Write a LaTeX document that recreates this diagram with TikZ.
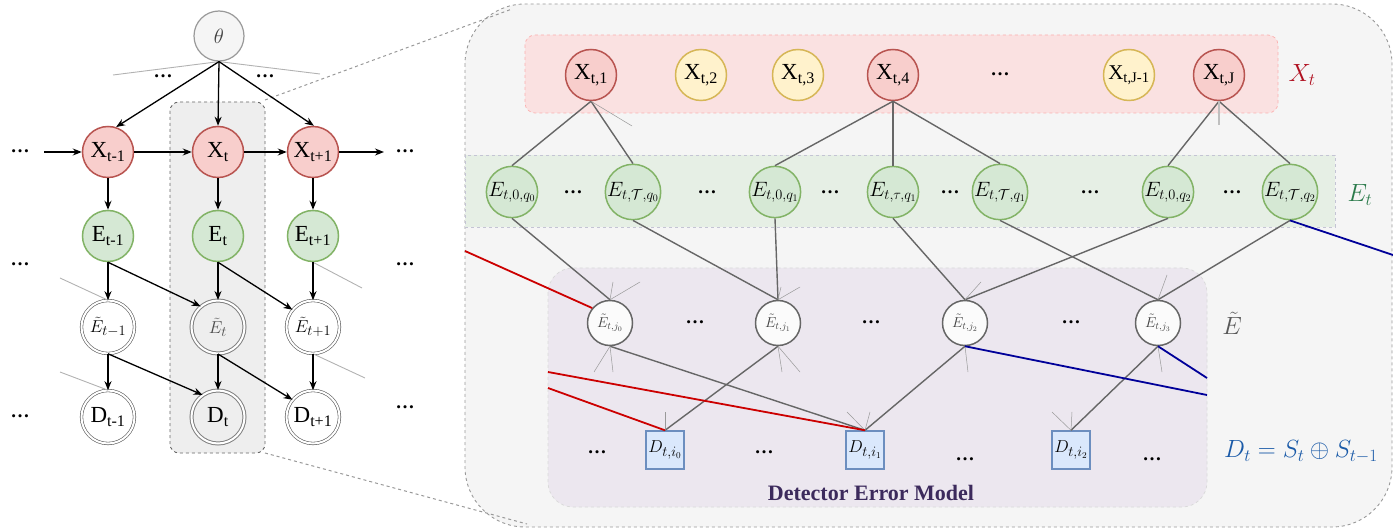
\documentclass[tikz,border=0pt]{standalone}
\usepackage[no-math]{fontspec}
\setmainfont{Liberation Serif}
\usetikzlibrary{arrows.meta}
\definecolor{redfill}{HTML}{F8CECC}
\definecolor{redline}{HTML}{B85450}
\definecolor{yelfill}{HTML}{FFF2CC}
\definecolor{yelline}{HTML}{D6B656}
\definecolor{grnfill}{HTML}{D5E8D4}
\definecolor{grnline}{HTML}{82B366}
\definecolor{blufill}{HTML}{DAE8FC}
\definecolor{bluline}{HTML}{6C8EBF}
\definecolor{conngray}{HTML}{666666}
\definecolor{stubgray}{HTML}{999999}
\definecolor{boxfill}{HTML}{F5F5F5}
\definecolor{hlfill}{HTML}{EEEEEE}
\definecolor{demfill}{HTML}{ECE7EF}
\definecolor{bandred}{HTML}{FAE1E1}
\definecolor{bandgrn}{HTML}{E6EFE5}
\definecolor{errred}{HTML}{CC0000}
\definecolor{errblue}{HTML}{000099}
\definecolor{demtext}{HTML}{3C2A5C}
\definecolor{labred}{HTML}{B01020}
\definecolor{labgrn}{HTML}{2A7A4A}
\definecolor{labblue}{HTML}{1A5AA8}
\begin{document}
\begin{tikzpicture}[x=1pt,y=-1pt,
  xnode/.style={circle,draw=redline,fill=redfill,line width=1.5pt,minimum size=51pt,inner sep=0pt,font=\fontsize{23}{26}\selectfont},
  ynode/.style={xnode,draw=yelline,fill=yelfill},
  enode/.style={xnode,draw=grnline,fill=grnfill},
  emnode/.style={enode,font=\fontsize{19.5}{22}\selectfont},
  tnode/.style={circle,draw=conngray,fill=white!97!gray,line width=1.5pt,minimum size=45pt,inner sep=0pt,font=\fontsize{14}{16}\selectfont,text=black!75},
  dnode/.style={rectangle,draw=bluline,fill=blufill,line width=1.4pt,minimum size=38pt,inner sep=0pt,font=\fontsize{19}{22}\selectfont},
  dblnode/.style={circle,draw=black!65,double=white,double distance=2pt,line width=0.6pt,minimum size=53pt,inner sep=0pt,font=\fontsize{23}{26}\selectfont},
  arr/.style={-{Stealth[length=9pt,width=7pt]},line width=1.3pt,black},
  conn/.style={line width=1.4pt,draw=conngray},
  stub/.style={line width=0.5pt,draw=stubgray},
  thin gray/.style={line width=0.9pt,draw=black!30},
  redl/.style={line width=1.8pt,draw=errred},
  bluel/.style={line width=1.8pt,draw=errblue},
  dotsnode/.style={font=\bfseries\fontsize{19}{22}\selectfont,inner sep=0pt},
  biglab/.style={font=\fontsize{24}{28}\selectfont,inner sep=0pt}]
\useasboundingbox (0,0) rectangle (1393,529);

% ===== backgrounds =====
\draw[dashed,draw=conngray,line width=0.9pt,fill=hlfill,rounded corners=9pt] (170,102) rectangle (265,453);
\draw[dashed,draw=stubgray,line width=0.9pt,fill=boxfill,rounded corners=60pt] (465,4) rectangle (1392,527);
\draw[dashed,draw=redfill!60!red!60,line width=0.7pt,fill=bandred,rounded corners=10pt] (525,35) rectangle (1278,113);
\draw[dashed,draw=blue!15!gray!40,line width=0.7pt,fill=bandgrn] (465,155) rectangle (1335,227);
\draw[dashed,draw=gray!30,line width=0.7pt,fill=demfill,rounded corners=25pt] (548,268) rectangle (1207,507);

% zoom lines
\coordinate (zt) at (512,9);
\coordinate (zb) at (527,524);
\coordinate (hltr) at (265,100);
\coordinate (hlbr) at (265,453);
\draw[dashed,draw=stubgray,line width=1pt] (hltr) -- (zt);
\draw[dashed,draw=stubgray,line width=1pt] (hlbr) -- (zb);

% ===== left panel =====
\node[circle,draw=black!40,fill=boxfill,line width=1.2pt,minimum size=50pt,inner sep=0pt,font=\fontsize{22}{26}\selectfont,text=black!75] (th) at (219,36) {$\theta$};
\node[xnode] (xl) at (108,152) {X\textsubscript{t-1}};
\node[xnode] (xm) at (218,152) {X\textsubscript{t}};
\node[xnode] (xr) at (313,152) {X\textsubscript{t+1}};
\node[enode] (el) at (108,236) {E\textsubscript{t-1}};
\node[enode] (em) at (218,236) {E\textsubscript{t}};
\node[enode] (er) at (313,236) {E\textsubscript{t+1}};
\node[dblnode,font=\fontsize{19}{22}\selectfont] (tl) at (108,327) {$\tilde E_{t-1}$};
\node[dblnode,font=\fontsize{19}{22}\selectfont,draw=black!50,line width=1pt,text=black!70] (tm) at (218,327) {$\tilde E_{t}$};
\node[dblnode,font=\fontsize{19}{22}\selectfont] (tr) at (313,327) {$\tilde E_{t+1}$};
\node[dblnode] (dl) at (108,417) {D\textsubscript{t-1}};
\node[dblnode,draw=black!50,line width=1pt] (dm) at (218,417) {D\textsubscript{t}};
\node[dblnode] (dr) at (313,417) {D\textsubscript{t+1}};

\node[dotsnode] (ld1) at (163,76) {\ldots};
\node[dotsnode] (ld2) at (265,76) {\ldots};
\node[dotsnode] (ld3) at (20,151) {\ldots};
\node[dotsnode] (ld4) at (405,151) {\ldots};
\node[dotsnode] (ld5) at (20,264) {\ldots};
\node[dotsnode] (ld6) at (405,264) {\ldots};
\node[dotsnode] (ld7) at (20,416) {\ldots};
\node[dotsnode] (ld8) at (405,407) {\ldots};

\coordinate (g1) at (113,75);
\coordinate (g2) at (320,74);
\coordinate (g3) at (60,278);
\coordinate (g4) at (362,288);
\coordinate (g5) at (365,378);
\coordinate (g6) at (60,372);
\coordinate (lin) at (44,152);
\coordinate (lout) at (384,152);
\draw[thin gray] (th.south) -- (g1);
\draw[thin gray] (th.south) -- (g2);
\draw[thin gray] (g3) -- (tl.north);
\draw[thin gray] (er.south) -- (g4);
\draw[thin gray] (tr.south) -- (g5);
\draw[thin gray] (g6) -- (dl.north);

\draw[arr] (th.south) -- (xl.72);
\draw[arr] (th.south) -- (xm.north);
\draw[arr] (th.south) -- (xr.88);
\draw[arr] (lin) -- (xl.west);
\draw[arr] (xl.east) -- (xm.west);
\draw[arr] (xm.east) -- (xr.west);
\draw[arr] (xr.east) -- (lout);
\draw[arr] (xl.south) -- (el.north);
\draw[arr] (xm.south) -- (em.north);
\draw[arr] (xr.south) -- (er.north);
\draw[arr] (el.south) -- (tl.north);
\draw[arr] (el.south) -- (tm.130);
\draw[arr] (em.south) -- (tm.north);
\draw[arr] (em.south) -- (tr.140);
\draw[arr] (er.south) -- (tr.north);
\draw[arr] (tl.south) -- (dl.north);
\draw[arr] (tl.south) -- (dm.125);
\draw[arr] (tm.south) -- (dm.north);
\draw[arr] (tm.south) -- (dr.140);
\draw[arr] (tr.south) -- (dr.north);

% ===== right panel =====
\node[xnode] (xa) at (591,75) {X\textsubscript{t,1}};
\node[ynode] (xb) at (701,75) {X\textsubscript{t,2}};
\node[ynode] (xc) at (798,75) {X\textsubscript{t,3}};
\node[xnode] (xd) at (893,75) {X\textsubscript{t,4}};
\node[dotsnode] (rd0) at (1000,74) {\ldots};
\node[ynode,font=\fontsize{21}{24}\selectfont] (xe) at (1129,75) {X\textsubscript{t,J-1}};
\node[xnode] (xf) at (1219,75) {X\textsubscript{t,J}};

\node[emnode] (e0) at (512,192) {$E_{t,0,q_0}$};
\node[emnode] (e1) at (633,192) {$E_{t,\mathcal{T},q_0}$};
\node[emnode] (e2) at (775,192) {$E_{t,0,q_1}$};
\node[emnode] (e3) at (893,192) {$E_{t,\tau,q_1}$};
\node[emnode] (e4) at (1000,192) {$E_{t,\mathcal{T},q_1}$};
\node[emnode] (e5) at (1168,192) {$E_{t,0,q_2}$};
\node[emnode] (e6) at (1290,192) {$E_{t,\mathcal{T},q_2}$};
\node[dotsnode] (rd1) at (573,192) {\ldots};
\node[dotsnode] (rd2) at (707,192) {\ldots};
\node[dotsnode] (rd3) at (830,192) {\ldots};
\node[dotsnode] (rd4) at (950,192) {\ldots};
\node[dotsnode] (rd5) at (1090,192) {\ldots};
\node[dotsnode] (rd6) at (1232,192) {\ldots};

\node[tnode] (t0) at (610,323) {$\tilde E_{t,j_0}$};
\node[tnode] (t1) at (778,323) {$\tilde E_{t,j_1}$};
\node[tnode] (t2) at (965,323) {$\tilde E_{t,j_2}$};
\node[tnode] (t3) at (1158,323) {$\tilde E_{t,j_3}$};
\node[dotsnode] (rd7) at (695,322) {\ldots};
\node[dotsnode] (rd8) at (871,322) {\ldots};
\node[dotsnode] (rd9) at (1071,322) {\ldots};

\node[dnode] (d0) at (665,450) {$D_{t,i_0}$};
\node[dnode] (d1) at (865,450) {$D_{t,i_1}$};
\node[dnode] (d2) at (1071,450) {$D_{t,i_2}$};
\node[dotsnode] (rd10) at (597,452) {\ldots};
\node[dotsnode] (rd11) at (764,452) {\ldots};
\node[dotsnode] (rd12) at (965,459) {\ldots};
\node[dotsnode] (rd13) at (1152,459) {\ldots};

\node[biglab,text=labred] (labx) at (1302,75) {$X_t$};
\node[biglab,text=labgrn] (labe) at (1360,195) {$E_t$};
\node[biglab,text=black!65] (labt) at (1232,323) {$\tilde E$};
\node[biglab,text=labblue] (labd) at (1301,452) {$D_t = S_t \oplus S_{t-1}$};
\node[font=\bfseries\fontsize{22}{26}\selectfont,text=demtext] (dem) at (871,493) {Detector Error Model};

% X -> E
\draw[conn] (xa.south) -- (e0.north);
\draw[conn] (xa.south) -- (e1.north);
\draw[conn] (xd.south) -- (e2.north);
\draw[conn] (xd.south) -- (e3.north);
\draw[conn] (xd.south) -- (e4.north);
\draw[conn] (xf.south) -- (e5.north);
\draw[conn] (xf.south) -- (e6.north);
% E -> Etilde
\draw[conn] (e0.south) -- (t0.north);
\draw[conn] (e1.south) -- (t1.north);
\draw[conn] (e2.south) -- (t1.north);
\draw[conn] (e3.south) -- (t2.north);
\draw[conn] (e4.south) -- (t3.north);
\draw[conn] (e5.south) -- (t2.north);
\draw[conn] (e6.south) -- (t3.north);
% Etilde -> D
\draw[conn] (t0.south) -- (d1.north);
\draw[conn] (t1.south) -- (d0.north);
\draw[conn] (t2.south) -- (d1.north);
\draw[conn] (t3.south) -- (d2.north);

% stubs
\coordinate (s1) at (632,126);
\coordinate (s2) at (1219,125);
\coordinate (s3) at (613,282);
\coordinate (s4) at (640,282);
\coordinate (s5) at (594,372);
\coordinate (s6) at (613,372);
\coordinate (s7) at (781,287);
\coordinate (s8) at (800,287);
\coordinate (s9) at (782,372);
\coordinate (s10) at (800,372);
\coordinate (s11) at (981,282);
\coordinate (s12) at (968,372);
\coordinate (s13) at (1167,275);
\coordinate (s14) at (1162,372);
\coordinate (s15) at (665,412);
\coordinate (s16) at (847,412);
\coordinate (s17) at (870,412);
\coordinate (s18) at (1052,412);
\coordinate (s19) at (1072,412);
\draw[stub] (xa.south) -- (s1);
\draw[stub,line width=1.2pt,draw=black!25] (xf.south) -- (s2);
\draw[stub] (t0.north) -- (s3);
\draw[stub] (t0.north) -- (s4);
\draw[stub] (t0.south) -- (s5);
\draw[stub] (t0.south) -- (s6);
\draw[stub] (t1.north) -- (s7);
\draw[stub] (t1.north) -- (s8);
\draw[stub] (t1.south) -- (s9);
\draw[stub] (t1.south) -- (s10);
\draw[stub] (t2.north) -- (s11);
\draw[stub] (t2.south) -- (s12);
\draw[stub] (t3.north) -- (s13);
\draw[stub] (t3.south) -- (s14);
\draw[stub] (d0.north) -- (s15);
\draw[stub] (d1.north) -- (s16);
\draw[stub] (d1.north) -- (s17);
\draw[stub] (d2.north) -- (s18);
\draw[stub] (d2.north) -- (s19);

% error lines
\coordinate (r1) at (465,251);
\coordinate (r2) at (548,372);
\coordinate (r3) at (548,388);
\coordinate (b1) at (1393,255);
\coordinate (b2) at (1207,395);
\coordinate (b3) at (1207,378);
\draw[redl] (r1) -- (t0.140);
\draw[redl] (r2) -- (d1.north);
\draw[redl] (r3) -- (d0.north);
\draw[bluel] (e6.south) -- (b1);
\draw[bluel] (t2.south) -- (b2);
\draw[bluel] (t3.south) -- (b3);
\end{tikzpicture}
\end{document}
